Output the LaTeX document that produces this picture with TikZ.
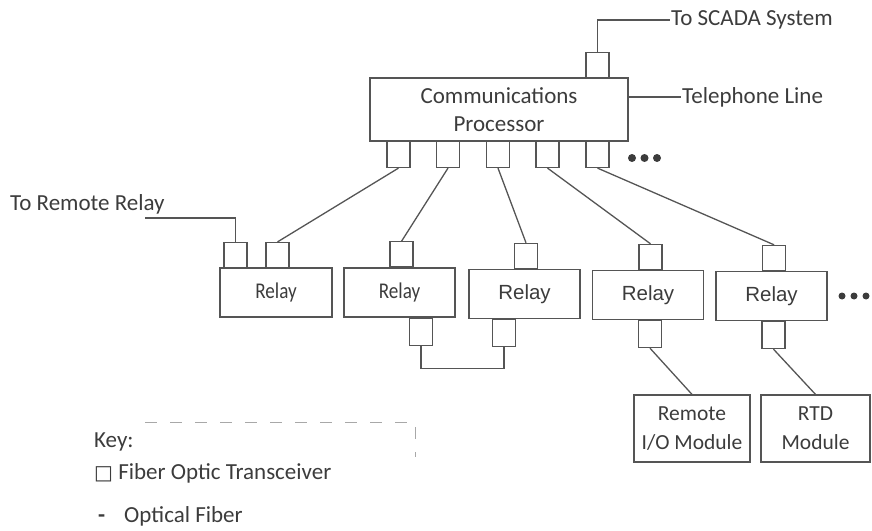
\documentclass[tikz,border=0pt]{standalone}
\usepackage{graphicx}
\usepackage{fontspec}
\setmainfont{Carlito}
\newfontfamily\arialfont{Liberation Sans}
\newfontfamily\symfont{DejaVu Sans}
\definecolor{wirecol}{HTML}{555555}
\definecolor{txtcol}{HTML}{3C3C3C}
\definecolor{keycol}{HTML}{A8A8A8}
\newcommand{\narrowrelay}{\scalebox{0.85}[1]{\fontsize{22.5}{24}\selectfont Relay}}
\newcommand{\widerelay}{{\arialfont\fontsize{20.5}{24}\selectfont Relay}}
\tikzset{
  wire/.style={draw=wirecol, line width=1.3pt},
  xcvr/.style={draw=wirecol, line width=1.1pt, minimum width=23pt,
    minimum height=25pt, inner sep=0pt},
  unit/.style={draw=wirecol, line width=1.2pt, inner sep=0pt,
    text=txtcol, align=center},
  relaybox/.style={unit, minimum width=111pt, minimum height=49pt},
  lbl/.style={text=txtcol, inner sep=1pt, anchor=west,
    font=\fontsize{23}{26}\selectfont},
}

\begin{document}
\begin{tikzpicture}[x=1pt,y=-1pt]
\useasboundingbox (0,0) rectangle (872,530);
% processor
\node[unit, minimum width=258pt, minimum height=63pt,
      font=\fontsize{23}{28}\selectfont] (proc) at (499,109.5) {Communications\\Processor};
\node[xcvr, anchor=south] (ptop) at (597.5,78) {};
\foreach \i/\x in {1/398.5,2/448,3/498,4/547.5,5/597.5}
  \node[xcvr, anchor=north, minimum height=26pt] (pb\i) at (\x,141) {};
\foreach \x in {632,644.5,657}
  \fill[txtcol] (\x,158) circle (4pt);
\node[lbl] (scada) at (670,20) {To SCADA System};
\node[lbl] (tel) at (681,97) {Telephone Line};
\draw[wire] (ptop.north) |- (scada.west);
\draw[wire] (proc.east |- tel.west) -- (tel.west);
% relays
\node[relaybox, minimum width=112pt] (r1) at (276,292.5) {\narrowrelay};
\node[relaybox] (r2) at (399.5,292.5) {\narrowrelay};
\node[relaybox] (r3) at (524.5,294) {\widerelay};
\node[relaybox] (r4) at (648,295) {\widerelay};
\node[relaybox] (r5) at (771.5,296) {\widerelay};
\foreach \x in {842,854,866}
  \fill[txtcol] (\x,296) circle (3.5pt);
\node[xcvr, anchor=south] (r1a) at (235.5,268) {};
\node[xcvr, anchor=south] (r1b) at (277.5,268) {};
\node[xcvr, anchor=south] (r2t) at ([xshift=2pt]r2.north) {};
\node[xcvr, anchor=south] (r3t) at ([xshift=1.5pt]r3.north) {};
\node[xcvr, anchor=south] (r4t) at ([xshift=2.5pt]r4.north) {};
\node[xcvr, anchor=south] (r5t) at ([xshift=2.5pt]r5.north) {};
\node[xcvr, anchor=north, minimum height=27pt] (r2b) at ([xshift=21.5pt]r2.south) {};
\node[xcvr, anchor=north, minimum height=27pt] (r3b) at ([xshift=-20.5pt]r3.south) {};
\node[xcvr, anchor=north, minimum height=27pt] (r4b) at ([xshift=2pt]r4.south) {};
\node[xcvr, anchor=north, minimum height=27pt] (r5b) at ([xshift=2pt]r5.south) {};
\node[lbl] (remote) at (9,204) {To Remote Relay};
\coordinate (remoteend) at (145,218);
\draw[wire] (r1a.north) |- (remoteend);
% fibers
\foreach \a/\b in {pb1/r1b,pb2/r2t,pb3/r3t,pb4/r4t,pb5/r5t}
  \draw[wire] (\a.south) -- (\b.north);
\draw[wire] (r2b.south) -- ++(0,23) -| (r3b.south);
% modules
\node[unit, minimum width=116pt, minimum height=67pt,
      font=\fontsize{21.5}{29}\selectfont] (io) at (692,428.5) {Remote\\I/O Module};
\node[unit, minimum width=109pt, minimum height=67pt,
      font=\fontsize{21.5}{29}\selectfont] (rtd) at (815.5,428.5) {RTD\\Module};
\draw[wire] (r4b.south) -- (io.north);
\draw[wire] (r5b.south) -- (rtd.north);
% key
\draw[keycol, line width=1pt, dash pattern=on 12pt off 13pt] (145,422) -- (415,422) -- (415,457);
\node[lbl] (key) at (93,442) {Key:};
\node[lbl] (keyxcvr) at (93,473) {{\symfont\fontsize{20}{20}\selectfont □} Fiber Optic Transceiver};
\node[lbl] (keyfiber) at (97,516) {{\bfseries -}\hspace{19pt}Optical Fiber};
\end{tikzpicture}
\end{document}
